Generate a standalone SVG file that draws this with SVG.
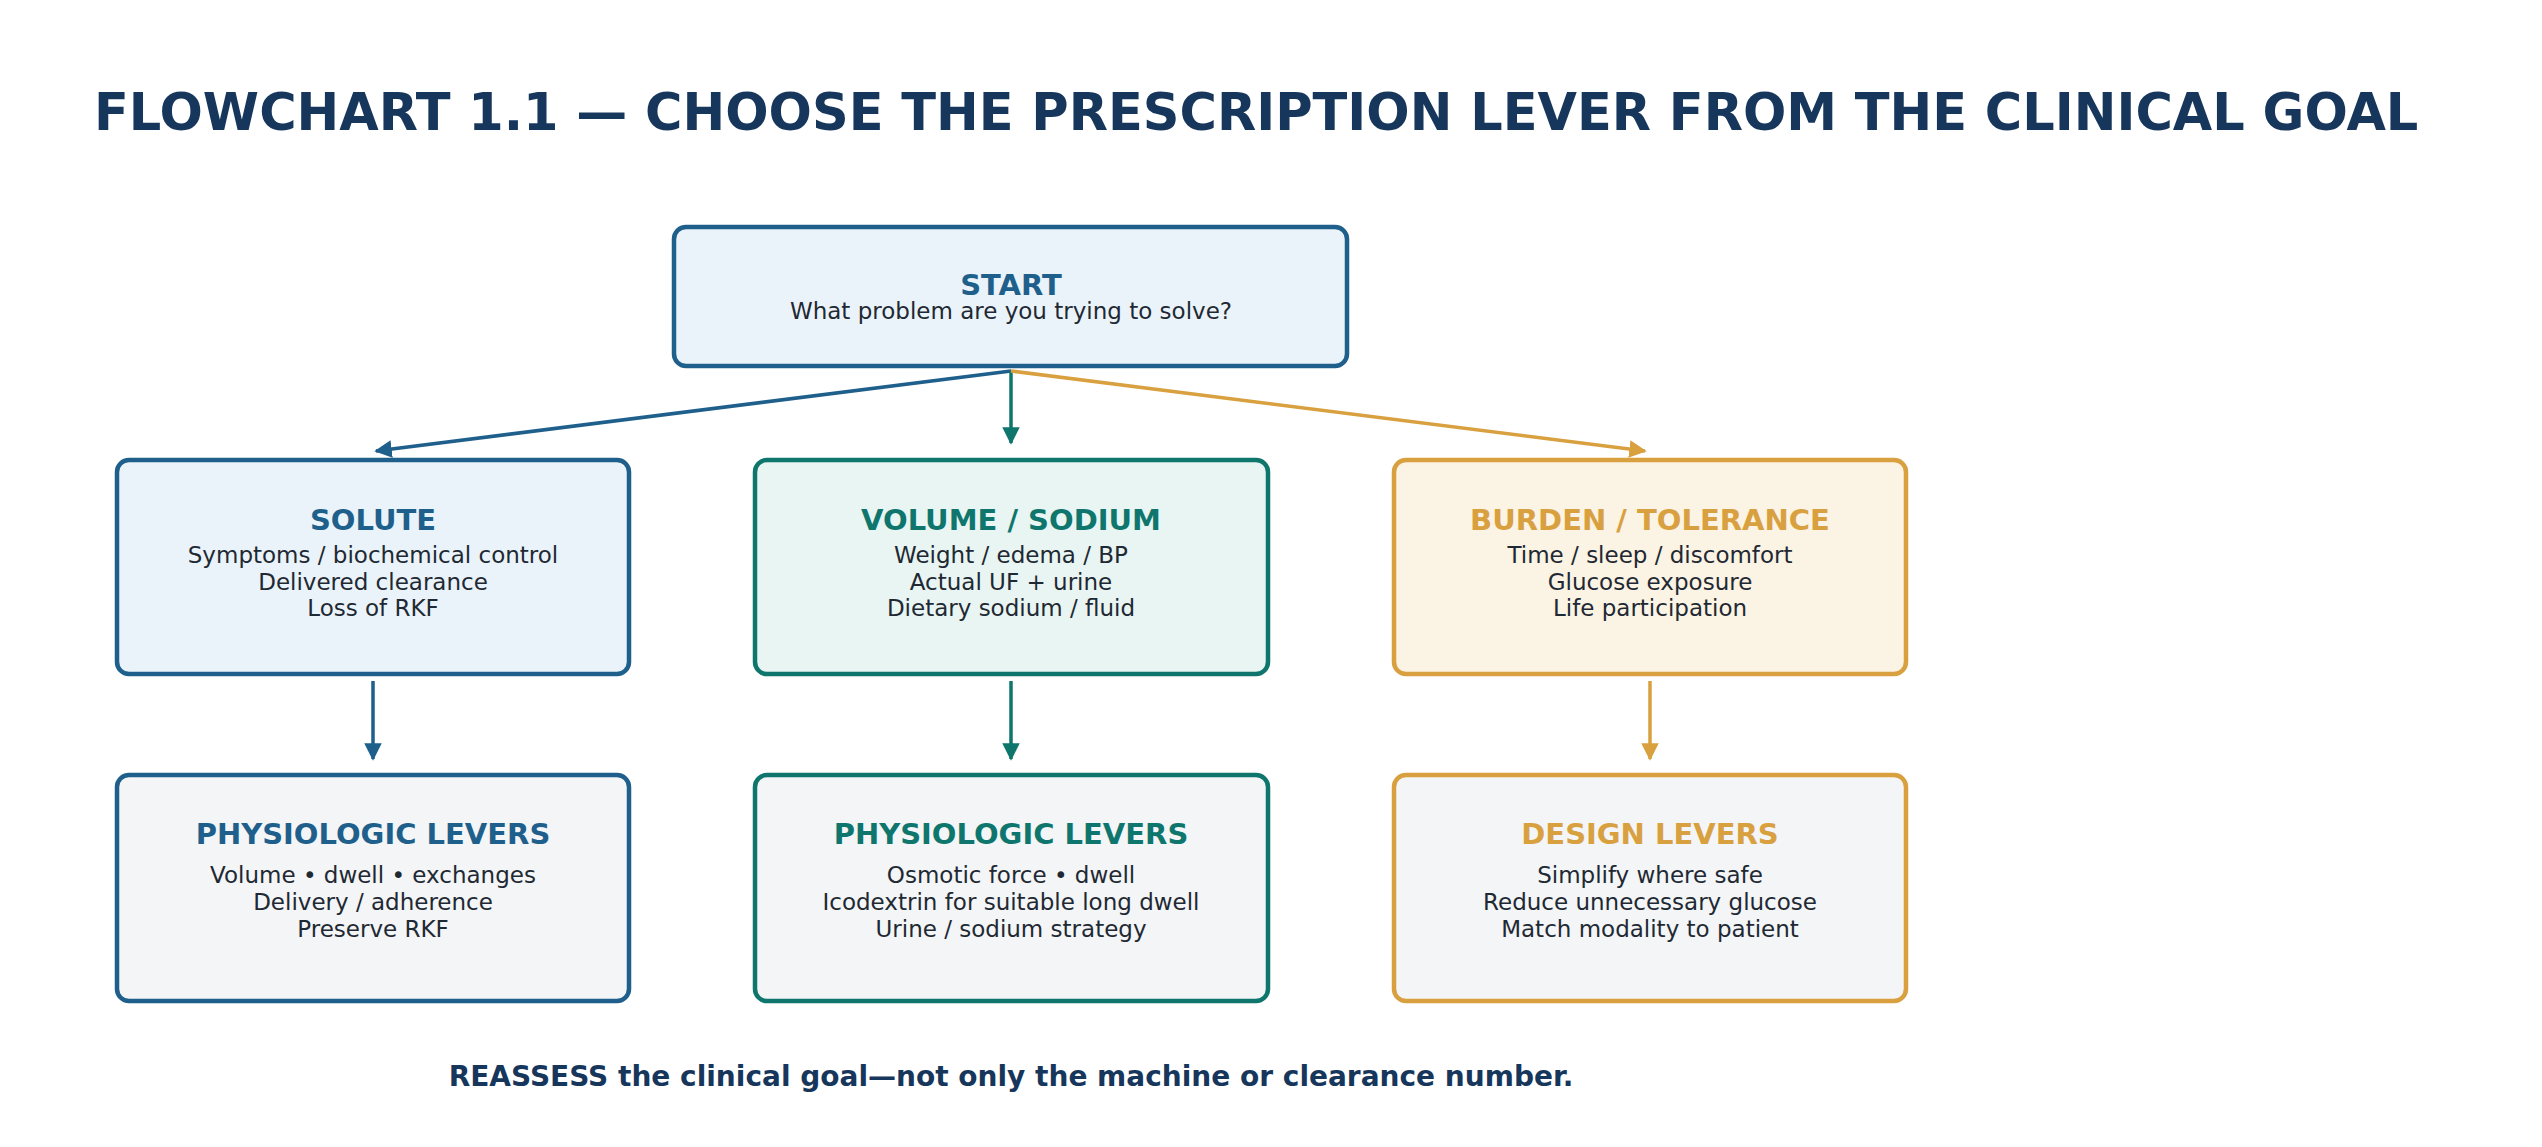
<svg xmlns="http://www.w3.org/2000/svg" width="2542" height="1147" viewBox="0 0 2542 1147">
<style>
text{font-family:"DejaVu Sans",sans-serif;text-anchor:middle}
.t{font-weight:bold;font-size:29px}
.b{font-size:23px;fill:#1f2933}
.box{stroke-width:4.5}
.blue{stroke:#1f5f8b}.teal{stroke:#0f766e}.gold{stroke:#d9a03f}
</style>
<defs>
<marker id="mb" viewBox="0 0 10 10" refX="9" refY="5" markerWidth="5" markerHeight="5" orient="auto"><path d="M0,0L10,5L0,10z" fill="#1f5f8b"/></marker>
<marker id="mt" viewBox="0 0 10 10" refX="9" refY="5" markerWidth="5" markerHeight="5" orient="auto"><path d="M0,0L10,5L0,10z" fill="#0f766e"/></marker>
<marker id="mg" viewBox="0 0 10 10" refX="9" refY="5" markerWidth="5" markerHeight="5" orient="auto"><path d="M0,0L10,5L0,10z" fill="#d9a03f"/></marker>
</defs>
<rect width="2542" height="1147" fill="#fff"/>
<text x="94" y="130" style="text-anchor:start;font-weight:bold;font-size:51px;fill:#16365c">FLOWCHART 1.1 — CHOOSE THE PRESCRIPTION LEVER FROM THE CLINICAL GOAL</text>
<g id="connectors" fill="none" stroke-width="3.5">
<path d="M1011,371L376,451" stroke="#1f5f8b" marker-end="url(#mb)"/>
<path d="M1011,371L1011,443" stroke="#0f766e" marker-end="url(#mt)"/>
<path d="M1011,371L1645,451" stroke="#d9a03f" marker-end="url(#mg)"/>
<path d="M373,681L373,759" stroke="#1f5f8b" marker-end="url(#mb)"/>
<path d="M1011,681L1011,759" stroke="#0f766e" marker-end="url(#mt)"/>
<path d="M1650,681L1650,759" stroke="#d9a03f" marker-end="url(#mg)"/>
</g>
<g id="start"><rect class="box blue" x="674" y="227" width="673" height="139" rx="12" fill="#eaf3f9"/>
<text class="t" x="1011" y="295" fill="#1f5f8b">START</text><text class="b" x="1011" y="319">What problem are you trying to solve?</text></g>
<g id="solute"><rect class="box blue" x="117" y="460" width="512" height="214" rx="12" fill="#eaf3f9"/>
<text class="t" x="373" y="530" fill="#1f5f8b">SOLUTE</text><text class="b" x="373" y="563">Symptoms / biochemical control</text><text class="b" x="373" y="590">Delivered clearance</text><text class="b" x="373" y="616">Loss of RKF</text></g>
<g id="volume"><rect class="box teal" x="755" y="460" width="513" height="214" rx="12" fill="#e8f5f2"/>
<text class="t" x="1011" y="530" fill="#0f766e">VOLUME / SODIUM</text><text class="b" x="1011" y="563">Weight / edema / BP</text><text class="b" x="1011" y="590">Actual UF + urine</text><text class="b" x="1011" y="616">Dietary sodium / fluid</text></g>
<g id="burden"><rect class="box gold" x="1394" y="460" width="512" height="214" rx="12" fill="#fbf3e3"/>
<text class="t" x="1650" y="530" fill="#d9a03f">BURDEN / TOLERANCE</text><text class="b" x="1650" y="563">Time / sleep / discomfort</text><text class="b" x="1650" y="590">Glucose exposure</text><text class="b" x="1650" y="616">Life participation</text></g>
<g id="phys1"><rect class="box blue" x="117" y="775" width="512" height="226" rx="12" fill="#f3f5f7"/>
<text class="t" x="373" y="844" fill="#1f5f8b">PHYSIOLOGIC LEVERS</text><text class="b" x="373" y="883">Volume • dwell • exchanges</text><text class="b" x="373" y="910">Delivery / adherence</text><text class="b" x="373" y="937">Preserve RKF</text></g>
<g id="phys2"><rect class="box teal" x="755" y="775" width="513" height="226" rx="12" fill="#f3f5f7"/>
<text class="t" x="1011" y="844" fill="#0f766e">PHYSIOLOGIC LEVERS</text><text class="b" x="1011" y="883">Osmotic force • dwell</text><text class="b" x="1011" y="910">Icodextrin for suitable long dwell</text><text class="b" x="1011" y="937">Urine / sodium strategy</text></g>
<g id="design"><rect class="box gold" x="1394" y="775" width="512" height="226" rx="12" fill="#f3f5f7"/>
<text class="t" x="1650" y="844" fill="#d9a03f">DESIGN LEVERS</text><text class="b" x="1650" y="883">Simplify where safe</text><text class="b" x="1650" y="910">Reduce unnecessary glucose</text><text class="b" x="1650" y="937">Match modality to patient</text></g>
<text x="1011" y="1086" style="font-weight:bold;font-size:28px;fill:#16365c">REASSESS the clinical goal—not only the machine or clearance number.</text>
</svg>
